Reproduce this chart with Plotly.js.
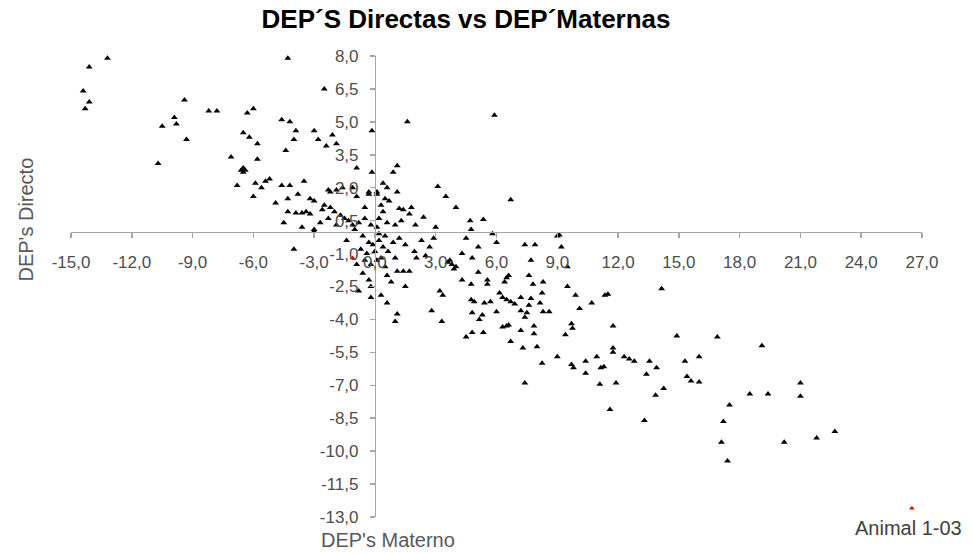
<!DOCTYPE html>
<html>
<head>
<meta charset="utf-8">
<script src="https://cdn.plot.ly/plotly-3.0.1.min.js"></script>
<style>html,body{margin:0;padding:0;background:#fff;}#chart{width:973px;height:554px;}</style>
</head>
<body>
<div id="chart"></div>
<script>
// DEP's Materno (x) and DEP's Directo (y)
const depMaterno = [
 -13.2,-14.1,-14.4,-14.1,-14.3,-9.4,-9.9,-10.5,-9.8,-9.3,-10.7,-8.2,-7.8,-6.3,-6.0,-4.3,
 -6.5,-6.2,-5.8,-7.1,-5.8,-6.6,-6.5,-6.4,-6.5,-6.8,-6.0,-5.9,-5.6,-5.4,-5.2,-4.9,-4.6,-4.2,-3.5,-3.8,-4.3,
 -4.6,-4.2,-3.9,-4.0,-4.4,-4.5,-3.6,-3.0,-3.0,-4.3,-3.9,-3.6,-3.4,-3.2,-4.0,
 -2.5,-3.0,-2.1,-1.9,-2.4,-2.8,-0.15,-0.15,-0.9,
 -3.2,-3.0,-2.5,-2.6,-2.2,-2.0,-1.7,-1.5,-2.3,-2.3,-1.9,-1.6,-1.1,-2.2,
 -0.9,-0.3,-0.3,0.1,0.1,-0.5,-1.1,-1.0,-0.8,-0.5,-1.3,-1.9,-2.7,
 1.6,5.9,1.1,0.9,0.4,0.6,0.5,0.3,1.1,1.2,1.8,1.4,0.7,0.4,0.2,0.6,1.0,1.3,1.7,2.0,2.4,3.0,
 0.1,-0.2,0.2,0.5,
 3.1,3.5,4.0,6.7,4.7,5.35,4.75,5.8,9.1,2.9,
 -0.6,-0.3,-0.4,-0.2,-0.5,-0.7,-0.6,-0.8,-0.3,0.1,0.3,0.65,1.0,1.1,1.4,1.7,2.05,1.95,0.2,0.4,0.9,1.2,1.5,2.3,2.7,0.0,-0.1,0.6,-0.2,2.5,
 -1.4,-0.9,0.3,0.8,-0.2,0.5,
 4.5,6.0,5.1,7.4,7.9,9.0,9.2,4.3,4.8,7.7,3.6,3.8,3.9,4.0,3.7,
 5.1,4.3,4.75,5.55,5.55,6.5,6.4,7.6,7.8,8.3,8.25,9.5,9.9,10.7,10.1,9.5,
 3.2,3.35,4.75,4.9,5.4,5.7,6.15,6.3,6.5,6.7,6.9,7.2,7.6,7.7,8.15,8.6,8.3,
 2.8,3.3,4.8,5.15,5.3,6.0,7.2,7.4,7.5,6.5,6.6,9.7,9.75,
 0.6,1.1,1.0,1.5,
 4.5,4.8,5.35,6.7,7.3,8.0,7.4,8.25,9.0,9.7,9.8,10.4,10.4,10.95,11.15,11.3,11.1,
 9.4,7.2,7.85,7.85,6.3,6.6,11.35,11.5,
 14.15,11.75,14.9,16.9,19.1,11.75,11.75,12.3,12.55,12.8,13.55,13.9,13.4,15.3,16.0,15.4,15.6,16.0,
 13.85,14.25,11.9,11.6,17.5,18.5,19.4,21.0,21.0,13.3,17.2,17.1,17.4,20.2,21.8,22.7
];
const depDirecto = [
 7.9,7.5,6.4,5.9,5.6,6.0,5.2,4.8,4.9,4.2,3.1,5.5,5.5,5.4,5.6,7.9,
 4.5,4.3,4.0,3.4,3.3,2.8,2.9,2.8,2.7,2.1,1.6,2.2,2.0,2.3,2.4,1.3,2.1,2.1,2.3,1.7,1.5,
 5.1,5.0,4.6,4.2,3.7,0.4,0.2,0.1,0.0,0.9,0.85,0.85,0.9,0.8,-0.8,
 6.5,4.6,4.4,4.0,3.9,4.2,4.6,2.7,2.9,
 1.5,1.4,1.2,1.0,1.1,0.9,0.75,0.6,0.6,1.9,1.9,2.0,2.0,1.8,
 1.6,1.7,1.8,1.7,1.8,1.1,0.3,0.1,0.4,0.6,0.5,0.3,0.4,
 5.0,5.3,3.0,2.7,2.2,2.0,1.5,1.2,1.8,1.05,1.1,1.0,1.4,0.9,0.6,0.4,0.3,0.5,0.8,0.3,0.65,0.2,
 0.2,0.3,-0.1,-0.2,
 2.05,1.6,1.1,1.45,0.5,0.55,0.1,-0.1,-0.15,-0.3,
 -0.2,-0.5,-1.0,-1.5,-1.3,-0.8,-1.9,-2.7,-2.2,-1.3,-1.2,-0.9,-1.2,-1.8,-1.8,-1.8,-1.2,-0.9,-0.4,-0.7,-0.5,-0.3,-0.6,-0.4,-0.7,-0.9,-0.6,-2.0,-2.5,-1.1,
 -0.4,-1.5,-2.9,-2.3,-3.0,-1.6,
 -0.3,-0.5,-0.7,-0.6,-0.6,-0.2,-0.7,-1.0,-1.2,-1.3,-1.4,-1.5,-1.7,-1.6,-1.3,
 -1.85,-2.2,-2.4,-2.2,-2.4,-2.1,-2.3,-2.0,-2.4,-2.3,-2.8,-2.5,-2.9,-3.25,-3.5,-1.6,
 -2.7,-2.9,-3.1,-3.2,-3.25,-3.2,-2.8,-3.0,-3.1,-3.2,-3.3,-3.0,-3.35,-3.05,-3.25,-3.65,-3.65,
 -3.6,-4.1,-3.7,-4.0,-3.8,-3.65,-3.6,-3.9,-3.7,-4.3,-4.25,-4.2,-4.4,
 -3.25,-3.75,-4.1,-2.5,
 -4.8,-4.6,-4.6,-5.0,-5.3,-5.25,-6.9,-6.0,-5.7,-6.05,-6.2,-5.9,-6.45,-5.7,-6.2,-6.15,-6.95,
 -4.7,-4.5,-4.3,-4.65,-4.35,-2.0,-2.9,-2.85,
 -2.6,-4.3,-4.75,-4.8,-5.2,-5.3,-5.5,-5.7,-5.8,-5.9,-5.9,-6.2,-6.5,-5.9,-5.7,-6.6,-6.8,-6.85,
 -7.45,-7.15,-6.9,-8.1,-7.9,-7.4,-7.4,-6.9,-7.5,-8.6,-8.65,-9.6,-10.45,-9.6,-9.4,-9.1
];
// highlighted animals (red)
const redX = [-1.1, 26.5];
const redY = [-1.2, -12.6];
const redLabels = ["", "Animal 1-03"];

// tick labels (hyphen minus, decimal comma as in the reference)
const xTickVals = [-15, -12, -9, -6, -3, 0, 3, 6, 9, 12, 15, 18, 21, 24, 27];
const xTickText = ["-15,0","-12,0","-9,0","-6,0","-3,0","0,0","3,0","6,0","9,0","12,0","15,0","18,0","21,0","24,0","27,0"];
const yTickVals = [8, 6.5, 5, 3.5, 2, 0.5, -1, -2.5, -4, -5.5, -7, -8.5, -10, -11.5, -13];
const yTickText = ["8,0","6,5","5,0","3,5","2,0","0,5","-1,0","-2,5","-4,0","-5,5","-7,0","-8,5","-10,0","-11,5","-13,0"];

const chartTitle = "DEP´S Directas vs DEP´Maternas";
const xTitle = "DEP's Materno";
const yTitle = "DEP's Directo";

const xMin = xTickVals[0], xMax = xTickVals[xTickVals.length - 1];
const yMin = yTickVals[yTickVals.length - 1], yMax = yTickVals[0];

const tickFont = {family: "Liberation Sans, Arial, sans-serif", size: 17, color: "#4d4d4d"};

const traces = [
  {
    type: "scatter", mode: "markers",
    x: depMaterno, y: depDirecto,
    marker: {symbol: "triangle-up", size: 6, color: "#000000"},
    hoverinfo: "x+y", showlegend: false, cliponaxis: false
  },
  {
    type: "scatter", mode: "markers",
    x: redX, y: redY,
    marker: {symbol: "triangle-up", size: 5, color: "#ff0000"},
    showlegend: false, cliponaxis: false
  }
];

const layout = {
  width: 973, height: 554,
  margin: {l: 71, r: 51, t: 56, b: 37, autoexpand: false},
  paper_bgcolor: "#ffffff", plot_bgcolor: "#ffffff",
  showlegend: false,
  title: {
    text: "<b>" + chartTitle + "</b>",
    x: 0.479, xanchor: "center", y: 0.965, yanchor: "middle",
    font: {family: "Liberation Sans, Arial, sans-serif", size: 26, color: "#000000"}
  },
  xaxis: {
    range: [xMin, xMax], tickmode: "array", tickvals: xTickVals, ticktext: xTickText,
    showgrid: false, zeroline: false, showline: true, linecolor: "#a6a6a6", linewidth: 1.5,
    ticks: "outside", ticklen: 5, tickcolor: "#a6a6a6", tickwidth: 1.5,
    anchor: "free", position: (0 - yMin) / (yMax - yMin),
    tickfont: tickFont, ticklabelstandoff: 9, fixedrange: true
  },
  yaxis: {
    range: [yMin, yMax], tickmode: "array", tickvals: yTickVals, ticktext: yTickText,
    showgrid: false, zeroline: false, showline: true, linecolor: "#a6a6a6", linewidth: 1.5,
    ticks: "outside", ticklen: 5, tickcolor: "#a6a6a6", tickwidth: 1.5,
    anchor: "free", position: (0 - xMin) / (xMax - xMin),
    tickfont: tickFont, ticklabelstandoff: 8, fixedrange: true
  },
  annotations: [
    {text: xTitle, xref: "paper", yref: "paper", x: 0.372, y: -0.05, xanchor: "center", yanchor: "middle",
     showarrow: false, font: {family: "Liberation Sans, Arial, sans-serif", size: 20, color: "#595959"}},
    {text: yTitle, xref: "paper", yref: "paper", x: -0.053, y: 0.645, xanchor: "center", yanchor: "middle", textangle: -90,
     showarrow: false, font: {family: "Liberation Sans, Arial, sans-serif", size: 20, color: "#595959"}},
    {text: redLabels[1], xref: "x", yref: "y", x: redX[1], y: redY[1], xanchor: "center", yanchor: "middle",
     yshift: -20, xshift: -3, showarrow: false, font: {family: "Liberation Sans, Arial, sans-serif", size: 20, color: "#404040"}}
  ]
};

Plotly.newPlot("chart", traces, layout, {staticPlot: true, displayModeBar: false});
</script>
</body>
</html>
